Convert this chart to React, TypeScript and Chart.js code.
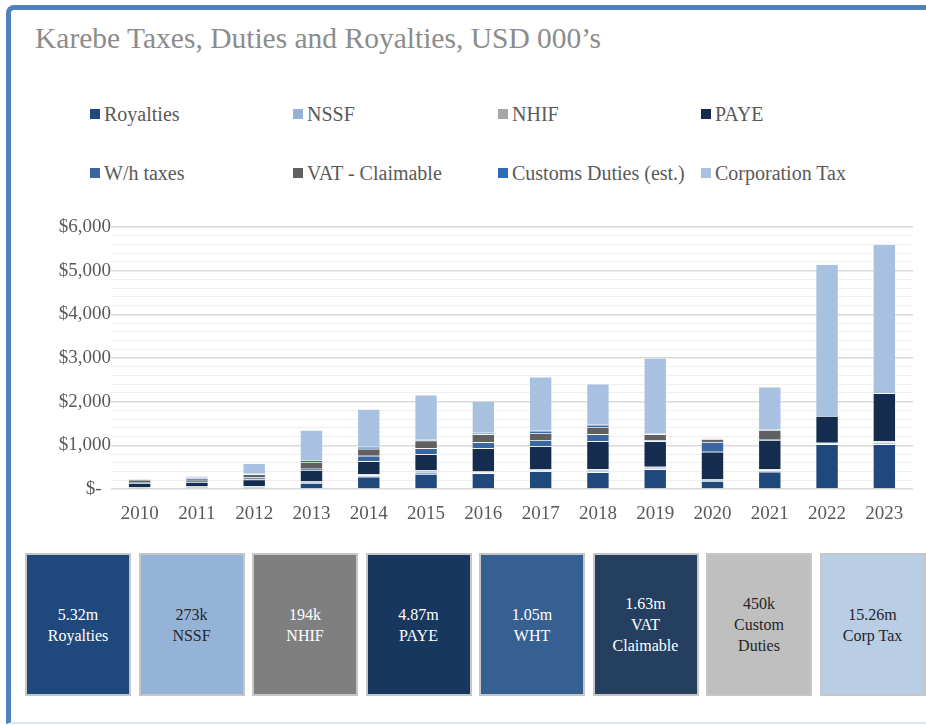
import React, { useEffect, useRef } from "react";
import { Chart, registerables } from "chart.js";

Chart.register(...registerables);

const years = ["2010", "2011", "2012", "2013", "2014", "2015", "2016", "2017", "2018", "2019", "2020", "2021", "2022", "2023"];
const royalties = [10, 20, 40, 137, 283, 344, 359, 405, 382, 450, 185, 397, 1023, 1023];
const nssf = [20, 28, 18, 26, 30, 50, 30, 30, 38, 35, 22, 30, 22, 40];
const nhif = [15, 15, 12, 20, 23, 42, 23, 23, 31, 26, 16, 23, 16, 36];
const paye = [90, 100, 150, 252, 298, 359, 519, 519, 641, 580, 630, 672, 611, 1092];
const wht = [25, 25, 45, 30, 130, 137, 137, 145, 160, 25, 225, 25, 0, 0];
const vat = [50, 55, 70, 153, 160, 176, 183, 160, 168, 137, 65, 206, 0, 0];
const customs = [15, 15, 12, 46, 46, 38, 38, 53, 53, 10, 12, 10, 0, 0];
const corpTax = [0, 40, 245, 687, 863, 1015, 725, 1237, 939, 1735, 0, 977, 3473, 3412];

const seriesNames = ["Royalties", "NSSF", "NHIF", "PAYE", "W/h taxes", "VAT - Claimable", "Customs Duties (est.)", "Corporation Tax"];
const seriesColors = ["#1F497D", "#95B3D7", "#A6A6A6", "#142C4E", "#3A67A0", "#606060", "#2E6DB6", "#A9C1E0"];
const seriesData = [royalties, nssf, nhif, paye, wht, vat, customs, corpTax];

const yTickMax = 6000;
const yMajorStep = 1000;
const yMinorStep = 200;

const summaryValues = ["5.32m", "273k", "194k", "4.87m", "1.05m", "1.63m", "450k", "15.26m"];
const summaryNames = ["Royalties", "NSSF", "NHIF", "PAYE", "WHT", "VAT\nClaimable", "Custom\nDuties", "Corp Tax"];
const summaryFills = ["#1F497D", "#95B3D7", "#7F7F7F", "#17375E", "#366092", "#243F60", "#BFBFBF", "#B9CDE5"];
const summaryText = ["#FFFFFF", "#262626", "#FFFFFF", "#FFFFFF", "#FFFFFF", "#FFFFFF", "#262626", "#262626"];

const SERIF = "'Liberation Serif', 'DejaVu Serif', serif";

const legendCols = [90, 293, 498, 701];
const legendRows = [114, 173];

function fmtTick(v: number): string {
  if (v % yMajorStep !== 0) return "";
  if (v === 0) return "$-  ";
  return "$" + v.toLocaleString("en-US");
}

export default function App() {
  const canvasRef = useRef<HTMLCanvasElement | null>(null);

  useEffect(() => {
    document.body.style.margin = "0";
    const canvas = canvasRef.current;
    if (!canvas) return;
    const chart = new Chart(canvas, {
      type: "bar",
      data: {
        labels: years,
        datasets: seriesNames.map((name, i) => ({
          label: name,
          data: seriesData[i],
          backgroundColor: seriesColors[i],
          borderColor: "rgba(255,255,255,0.25)",
          borderWidth: 0.75,
          barPercentage: 0.4,
          categoryPercentage: 1,
        })),
      },
      options: {
        responsive: false,
        animation: false,
        devicePixelRatio: 1,
        layout: { padding: { top: 27, right: 13, bottom: 0, left: 0 } },
        plugins: { legend: { display: false }, tooltip: { enabled: false } },
        scales: {
          x: {
            stacked: true,
            grid: { display: false, drawTicks: false },
            border: { display: false },
            ticks: { color: "#595959", font: { family: SERIF, size: 19 }, padding: 14 },
            afterFit: (s: any) => { s.height = 41; },
          },
          y: {
            stacked: true,
            min: 0,
            max: yTickMax,
            border: { display: false },
            grid: {
              drawTicks: false,
              color: (ctx: any) => (ctx.tick && ctx.tick.value % yMajorStep === 0 ? "#D9D9D9" : "#EFEFEF"),
              lineWidth: (ctx: any) => (ctx.tick && ctx.tick.value % yMajorStep === 0 ? 1.5 : 1),
            },
            ticks: {
              stepSize: yMinorStep,
              autoSkip: false,
              color: "#595959",
              font: { family: SERIF, size: 19 },
              padding: 0,
              callback: (v: any) => fmtTick(Number(v)),
            },
            afterFit: (s: any) => { s.width = 111; },
          },
        },
      },
    });
    return () => chart.destroy();
  }, []);

  return (
    <div style={{ position: "absolute", left: 0, top: 0, width: 926, height: 726, background: "#FFFFFF", overflow: "hidden", fontFamily: SERIF }}>
      <div
        style={{
          position: "absolute",
          left: 6,
          top: 5,
          width: 940,
          height: 719,
          boxSizing: "border-box",
          borderLeft: "5px solid #4F81BD",
          borderTop: "5px solid #4F81BD",
          borderBottom: "2px solid #DCE6F2",
          borderTopLeftRadius: 8,
        }}
      />
      <div style={{ position: "absolute", left: 35, top: 23, fontSize: 29.5, lineHeight: "30px", color: "#8C8C8C", whiteSpace: "nowrap" }}>
        Karebe Taxes, Duties and Royalties, USD 000’s
      </div>
      {seriesNames.map((name, i) => (
        <div
          key={name}
          style={{
            position: "absolute",
            left: legendCols[i % 4],
            top: legendRows[Math.floor(i / 4)] - 12,
            height: 24,
            display: "flex",
            alignItems: "center",
            whiteSpace: "nowrap",
            fontSize: 20,
            color: "#595959",
          }}
        >
          <span style={{ display: "inline-block", width: 10, height: 10, background: seriesColors[i], marginRight: 4 }} />
          <span>{name}</span>
        </div>
      ))}
      <canvas ref={canvasRef} width={926} height={330} style={{ position: "absolute", left: 0, top: 200, width: 926, height: 330 }} />
      {summaryValues.map((v, i) => (
        <div
          key={i}
          style={{
            position: "absolute",
            left: 25 + i * 113.5,
            top: 553,
            width: 106,
            height: 143,
            boxSizing: "border-box",
            border: "2px solid #C6C6C6",
            background: summaryFills[i],
            color: summaryText[i],
            display: "flex",
            flexDirection: "column",
            alignItems: "center",
            justifyContent: "center",
            fontSize: 16,
            lineHeight: "21px",
            textAlign: "center",
          }}
        >
          <div>{v}</div>
          {summaryNames[i].split("\n").map((line, j) => (
            <div key={j}>{line}</div>
          ))}
        </div>
      ))}
    </div>
  );
}
